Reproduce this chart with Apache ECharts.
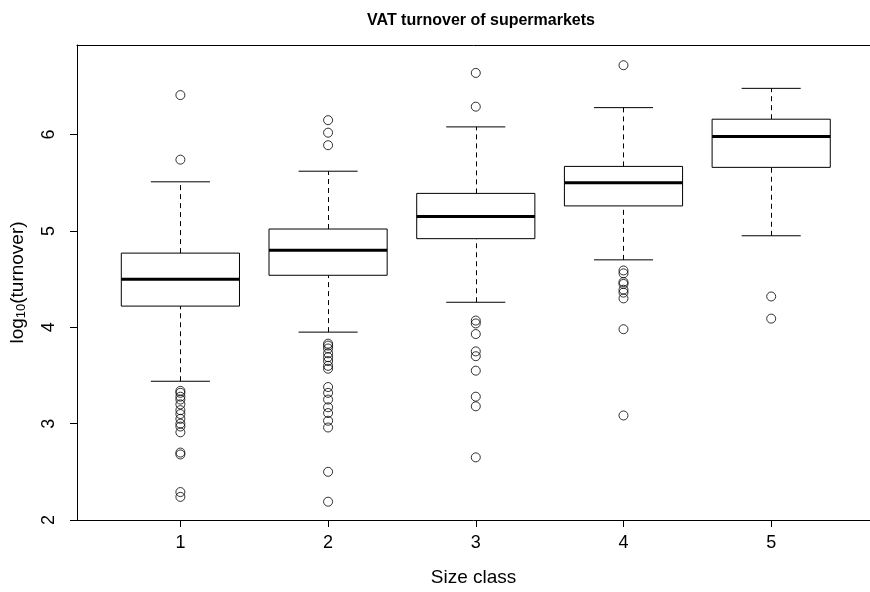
<!DOCTYPE html>
<html>
<head>
<meta charset="utf-8">
<script src="https://cdn.jsdelivr.net/npm/echarts@6/dist/echarts.min.js"></script>
<style>
  html, body { margin: 0; padding: 0; background: #fff; }
  #chart { width: 870px; height: 592px; }
</style>
</head>
<body>
<div id="chart"></div>
<script>
// size classes on the x axis
var classes = [1, 2, 3, 4, 5];
// box statistics per class: lower whisker, Q1, median, Q3, upper whisker
var whiskerLow = [3.44, 3.95, 4.26, 4.70, 4.95];
var q1 = [4.22, 4.54, 4.92, 5.26, 5.66];
var median = [4.50, 4.80, 5.15, 5.50, 5.98];
var q3 = [4.77, 5.02, 5.39, 5.67, 6.16];
var whiskerHigh = [5.51, 5.62, 6.08, 6.28, 6.48];
// outliers per class
var outliers1 = [6.41, 5.74, 3.34, 3.32, 3.28, 3.25, 3.20, 3.14, 3.10, 3.05, 3.00, 2.97, 2.91, 2.70, 2.68, 2.29, 2.24];
var outliers2 = [6.15, 6.02, 5.89, 3.83, 3.81, 3.78, 3.73, 3.69, 3.65, 3.60, 3.57, 3.38, 3.32, 3.25, 3.17, 3.11, 3.03, 2.96, 2.50, 2.19];
var outliers3 = [6.64, 6.29, 4.07, 4.04, 3.93, 3.75, 3.70, 3.55, 3.28, 3.18, 2.65];
var outliers4 = [6.72, 4.59, 4.56, 4.47, 4.45, 4.39, 4.36, 4.30, 3.98, 3.085];
var outliers5 = [4.32, 4.09];
var yTicks = [2, 3, 4, 5, 6];

var boxData = classes.map(function (c, i) {
    return [c, whiskerLow[i], q1[i], median[i], q3[i], whiskerHigh[i]];
});
var outlierData = [];
[outliers1, outliers2, outliers3, outliers4, outliers5].forEach(function (list, i) {
    list.forEach(function (v) { outlierData.push([classes[i], v]); });
});

var FONT = 'Liberation Sans, Arial, sans-serif';

function renderBox(params, api) {
    var x = api.value(0);
    var lo = api.coord([x, api.value(1)]);
    var b1 = api.coord([x, api.value(2)]);
    var md = api.coord([x, api.value(3)]);
    var b3 = api.coord([x, api.value(4)]);
    var hi = api.coord([x, api.value(5)]);
    var left = api.coord([x - 0.4, 0])[0];
    var right = api.coord([x + 0.4, 0])[0];
    var capL = api.coord([x - 0.2, 0])[0];
    var capR = api.coord([x + 0.2, 0])[0];
    var cx = Math.round(lo[0]) + 0.5;
    var solid = { stroke: '#000', lineWidth: 1 };
    var dashed = { stroke: '#000', lineWidth: 1, lineDash: [5, 4] };
    return {
        type: 'group',
        children: [
            { type: 'line', shape: { x1: cx, y1: lo[1], x2: cx, y2: b1[1] }, style: dashed },
            { type: 'line', shape: { x1: cx, y1: b3[1], x2: cx, y2: hi[1] }, style: dashed },
            { type: 'line', shape: { x1: capL, y1: lo[1], x2: capR, y2: lo[1] }, style: solid },
            { type: 'line', shape: { x1: capL, y1: hi[1], x2: capR, y2: hi[1] }, style: solid },
            { type: 'rect', shape: { x: left, y: b3[1], width: right - left, height: b1[1] - b3[1] },
              style: { fill: '#fff', stroke: '#000', lineWidth: 1 } },
            { type: 'line', shape: { x1: left, y1: md[1], x2: right, y2: md[1] },
              style: { stroke: '#000', lineWidth: 3 } }
        ]
    };
}

var chart = echarts.init(document.getElementById('chart'));
chart.setOption({
    animation: false,
    backgroundColor: '#fff',
    title: {
        text: 'VAT turnover of supermarkets',
        left: 476,
        textAlign: 'center',
        top: 8,
        textStyle: { fontFamily: FONT, fontSize: 16, fontWeight: 'bold', color: '#000' }
    },
    grid: { left: 77, right: 0, top: 45, bottom: 71 },
    xAxis: [{
        type: 'value',
        min: 0.3,
        max: 5.669,
        name: 'Size class',
        nameLocation: 'middle',
        nameGap: 48,
        nameTextStyle: { fontFamily: FONT, fontSize: 19, color: '#000' },
        splitLine: { show: false },
        axisLine: { show: true, onZero: false, lineStyle: { color: '#000' } },
        axisTick: { show: true, length: 7, customValues: classes, lineStyle: { color: '#000' } },
        axisLabel: { customValues: classes, margin: 14, fontFamily: FONT, fontSize: 18, color: '#000' }
    }, {
        type: 'value',
        position: 'top',
        min: 0.3,
        max: 5.669,
        splitLine: { show: false },
        axisLine: { show: true, onZero: false, lineStyle: { color: '#000' } },
        axisTick: { show: false },
        axisLabel: { show: false }
    }],
    yAxis: {
        type: 'value',
        min: 2,
        max: 6.93,
        name: '{n|log}{s|10}{n|(turnover)}',
        nameLocation: 'middle',
        nameGap: 49,
        nameTextStyle: {
            rich: {
                n: { fontFamily: FONT, fontSize: 19, color: '#000' },
                s: { fontFamily: FONT, fontSize: 13, color: '#000', padding: [7, 0, 0, 0] }
            }
        },
        splitLine: { show: false },
        axisLine: { show: true, onZero: false, lineStyle: { color: '#000' } },
        axisTick: { show: true, length: 7, customValues: yTicks, lineStyle: { color: '#000' } },
        axisLabel: { customValues: yTicks, rotate: 90, margin: 19, fontFamily: FONT, fontSize: 18, color: '#000' }
    },
    series: [
        {
            type: 'custom',
            renderItem: renderBox,
            data: boxData,
            encode: { x: 0, y: [1, 2, 3, 4, 5] },
            z: 2
        },
        {
            type: 'scatter',
            data: outlierData,
            symbol: 'circle',
            symbolSize: 9,
            itemStyle: { color: 'transparent', borderColor: '#000', borderWidth: 1 },
            z: 3
        }
    ]
});
</script>
</body>
</html>
